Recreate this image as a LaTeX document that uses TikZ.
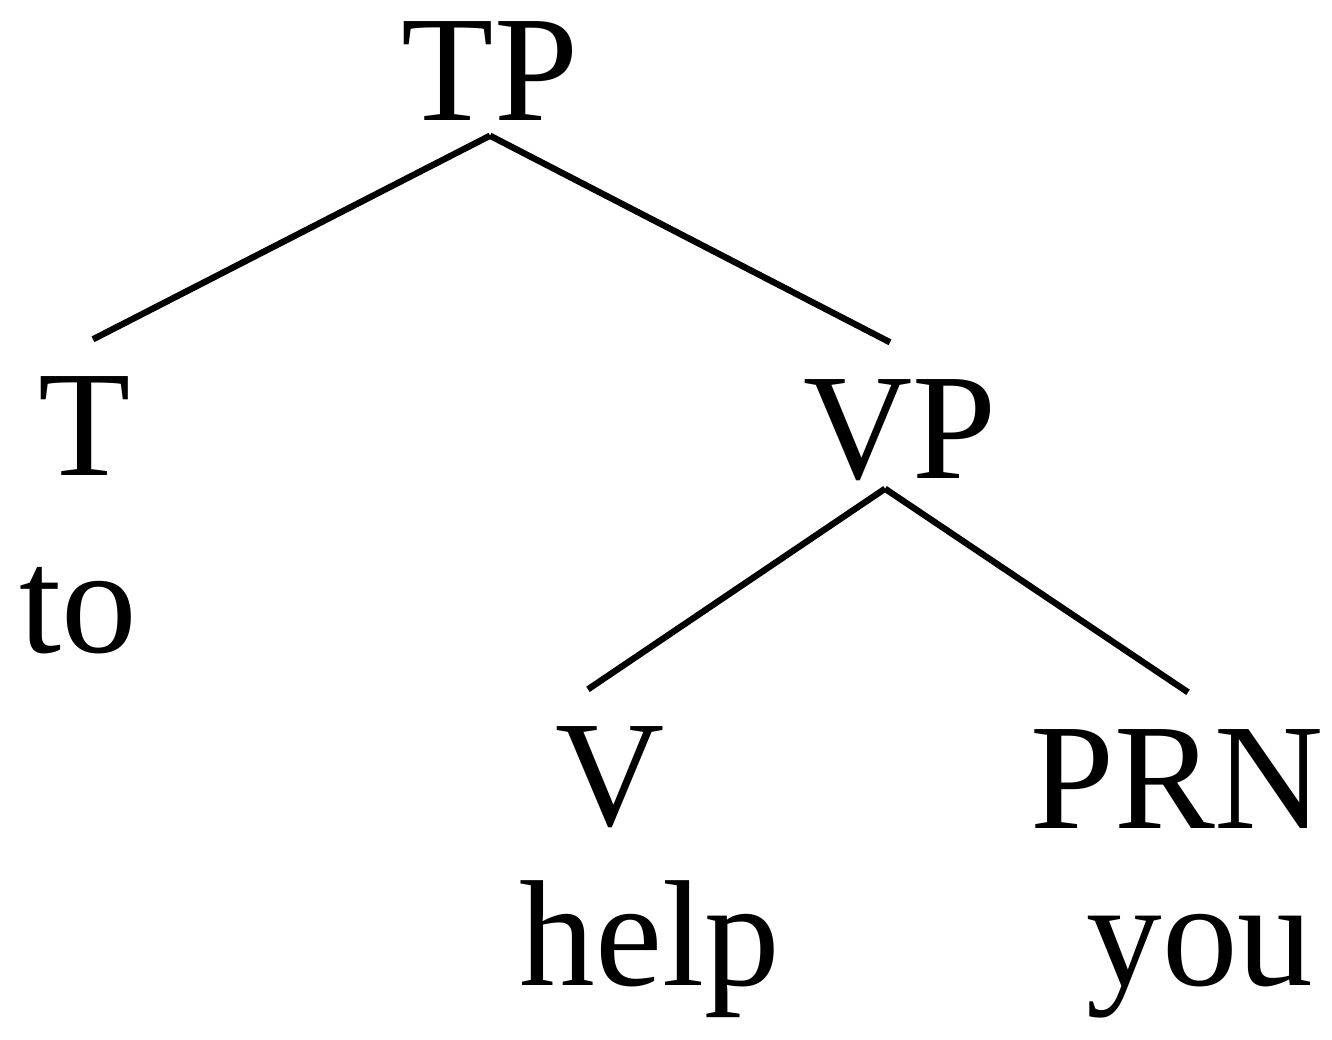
\documentclass[tikz,border=0pt]{standalone}
\usepackage{fontspec}
\setmainfont{Liberation Serif}
\usepackage{tikz}

\begin{document}
\begin{tikzpicture}[
    cat/.style={anchor=base,inner xsep=0pt,inner ysep=0.15cm,text height=1.2cm,text depth=0pt},
    word/.style={anchor=base,inner sep=0pt},
    branch/.style={line width=1.8pt}]
  \useasboundingbox (0,0) rectangle (13.32,-10.39);
  \fontsize{43}{50}\selectfont
  % categories
  \node[cat] (tp) at (4.90,-1.20) {TP};
  \node[cat] (t) at (0.85,-4.75) {T};
  \node[cat] (vp) at (9.00,-4.78) {VP};
  \node[cat] (v) at (6.10,-8.25) {V};
  \node[cat] (prn) at (11.77,-8.28) {PRN};
  % words
  \node[word] (to) at (0.78,-6.52) {to};
  \node[word] (help) at (6.50,-9.85) {help};
  \node[word] (you) at (12.00,-9.85) {you};
  % branches
  \draw[branch] (tp.south) -- ([xshift=0.08cm]t.north);
  \draw[branch] (tp.south) -- ([xshift=-0.1cm]vp.north);
  \draw[branch] ([xshift=-0.15cm,yshift=0.05cm]vp.south) -- ([xshift=-0.22cm]v.north);
  \draw[branch] ([xshift=-0.15cm,yshift=0.05cm]vp.south) -- ([xshift=0.11cm]prn.north);
\end{tikzpicture}
\end{document}
